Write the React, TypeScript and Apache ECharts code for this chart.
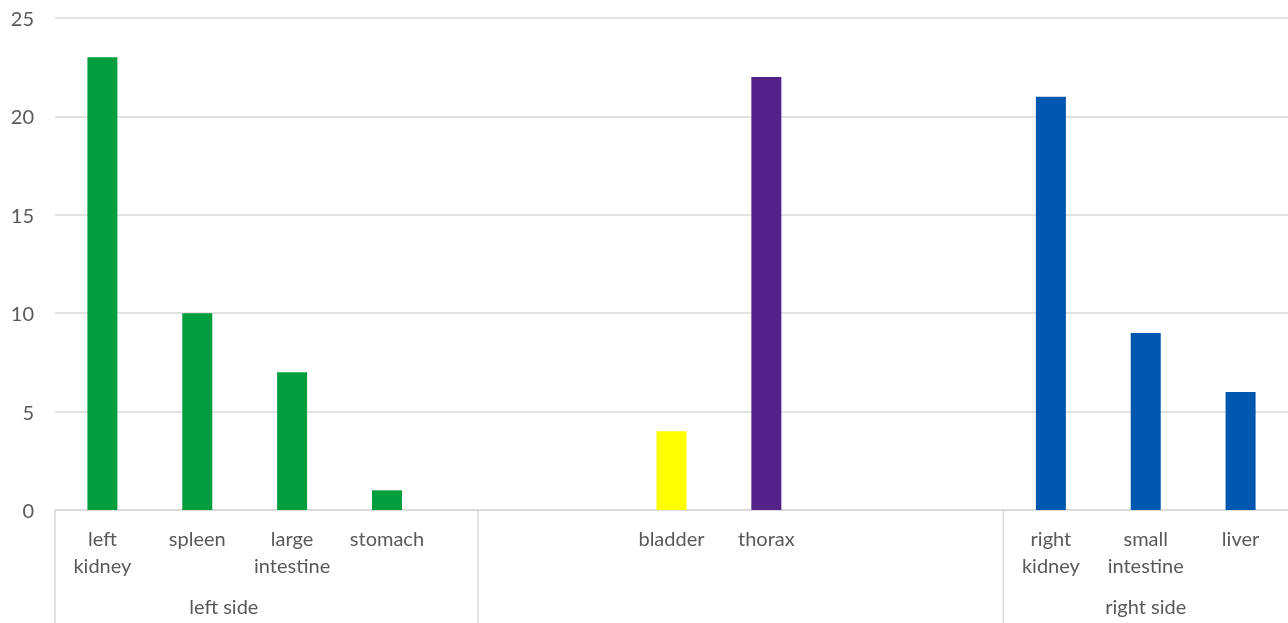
import React, { useEffect, useRef } from "react";
import * as echarts from "echarts";

const categories = [
  "left\nkidney",
  "spleen",
  "large\nintestine",
  "stomach",
  "",
  "",
  "bladder",
  "thorax",
  "",
  "",
  "right\nkidney",
  "small\nintestine",
  "liver",
];
const values: (number | string)[] = [23, 10, 7, 1, "-", "-", 4, 22, "-", "-", 21, 9, 6];
const barColors = [
  "#009e3d", "#009e3d", "#009e3d", "#009e3d", "#ffffff", "#ffffff",
  "#ffff00", "#55218a", "#ffffff", "#ffffff",
  "#0057b0", "#0057b0", "#0057b0",
];
const yTicks = { min: 0, max: 25, interval: 5 };

// group labels: name and position (in category-index units)
const groupNames = ["left side", "right side"];
const groupLabelAt = [1.28, 11];
// group separators (in category-index units)
const separatorsAt = [-0.5, 3.96, 9.5];

const FONT = "Lato, 'Open Sans', sans-serif";
const TEXT = "#595959";
const GRID = "#d9d9d9";

export default function App() {
  const ref = useRef<HTMLDivElement>(null);
  useEffect(() => {
    if (!ref.current) return;
    const chart = echarts.init(ref.current, null, { renderer: "svg" });
    chart.setOption({
      animation: false,
      grid: { left: 55, top: 18, width: 1238, height: 492 },
      xAxis: {
        type: "category",
        data: categories,
        axisLine: { lineStyle: { color: GRID, width: 1.5 } },
        axisTick: { show: false },
        axisLabel: {
          interval: 0,
          color: TEXT,
          fontFamily: FONT,
          fontSize: 20,
          lineHeight: 27,
          margin: 14,
        },
      },
      yAxis: {
        type: "value",
        ...yTicks,
        axisLine: { show: false },
        axisTick: { show: false },
        splitLine: { lineStyle: { color: GRID, width: 1.5 } },
        axisLabel: { color: TEXT, fontFamily: FONT, fontSize: 20, margin: 21 },
      },
      series: [
        {
          type: "bar",
          data: values.map((v, i) => ({ value: v, itemStyle: { color: barColors[i] } })),
          barWidth: 30,
        },
      ],
    });
    const px0 = chart.convertToPixel({ xAxisIndex: 0 }, 0) as number;
    const px1 = chart.convertToPixel({ xAxisIndex: 0 }, 1) as number;
    const step = px1 - px0;
    const y0 = chart.convertToPixel({ yAxisIndex: 0 }, 0) as number;
    const graphic: any[] = [];
    separatorsAt.forEach((s) => {
      const x = px0 + s * step;
      graphic.push({
        type: "line",
        shape: { x1: x, y1: y0, x2: x, y2: 630 },
        style: { stroke: GRID, lineWidth: 1.5 },
        silent: true,
      });
    });
    groupNames.forEach((n, i) => {
      graphic.push({
        type: "text",
        x: px0 + groupLabelAt[i] * step,
        y: y0 + 96,
        style: {
          text: n,
          fill: TEXT,
          font: `20px ${FONT}`,
          align: "center",
          verticalAlign: "middle",
        },
        silent: true,
      });
    });
    chart.setOption({ graphic });
    return () => chart.dispose();
  }, []);
  return (
    <div
      ref={ref}
      style={{ position: "fixed", left: 0, top: 0, width: 1288, height: 623 }}
    />
  );
}
